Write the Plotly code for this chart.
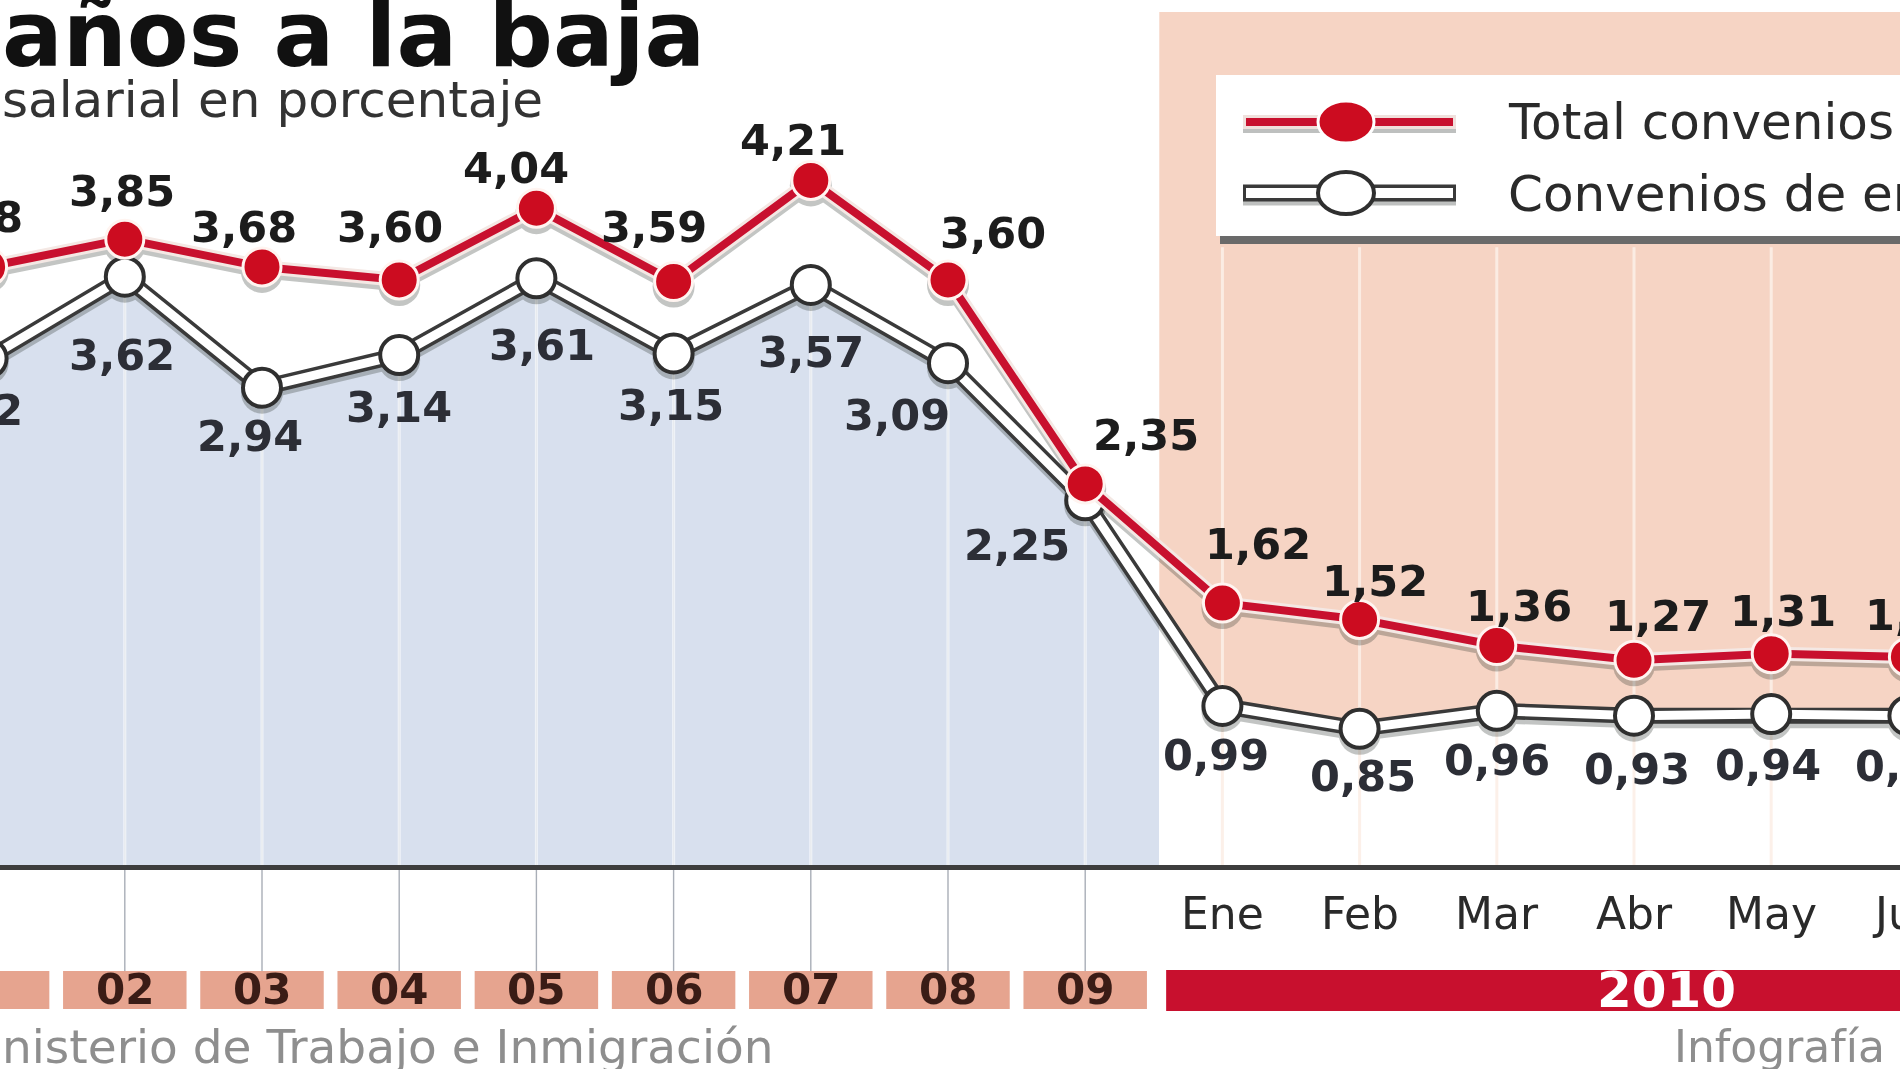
import plotly.graph_objects as go

# ---------------- data ----------------
years = ["01", "02", "03", "04", "05", "06", "07", "08", "09"]
months = ["Ene", "Feb", "Mar", "Abr", "May", "Jun"]
categories = years + months
total = [3.68, 3.85, 3.68, 3.60, 4.04, 3.59, 4.21, 3.60, 2.35, 1.62, 1.52, 1.36, 1.27, 1.31, 1.29]
empresa = [3.12, 3.62, 2.94, 3.14, 3.61, 3.15, 3.57, 3.09, 2.25, 0.99, 0.85, 0.96, 0.93, 0.94, 0.93]
year_2010 = "2010"
title_text = "años a la baja"
subtitle_text = "salarial en porcentaje"
legend_names = ["Total convenios", "Convenios de empresa"]
source_text = "nisterio de Trabajo e Inmigración"
credit_text = "Infografía"

# label offsets in pixels (dx, distance from marker)
total_off = [(-18, 50), (-3, 48), (-18, 40), (-9, 53), (-20, 40), (-20, 55), (-18, 40), (45, 47),
             (61, 49), (36, 59), (15, 38), (22, 40), (24, 44), (12, 43), (10, 42)]
emp_off = [(-18, 52), (-3, 78), (-12, 48), (0, 52), (6, 67), (-3, 52), (0, 67), (-51, 52),
           (-68, 45), (-6, 49), (3, 47), (0, 49), (3, 53), (-3, 51), (0, 50)]

# ---------------- layout geometry ----------------
W, H = 1900, 1069
Y0PX, PPU = 867.5, 163.2          # pixel of value 0, pixels per unit
X0PX, STEP = -12.4, 137.2         # pixel of first category, pixels per category
yr = [(Y0PX - H) / PPU, Y0PX / PPU]
xr = [(0 - X0PX) / STEP, (W - X0PX) / STEP]
SPLIT = 8.54                       # boundary years / 2010 region (axis units)
SH = 5 / PPU                       # shadow offset (5 px)

RED = "#c8102e"
PEACH = "#f6d4c4"
BLUE = "#d8e0ee"
SALMON = "#e6a48f"
DARK = "#3a3a3a"


def px(x):
    return x / W


def py(y):
    return 1 - y / H


def anchor(i):
    """keep annotation anchors inside the axis range; shift the text by the same amount in px"""
    a = min(max(i, xr[0]), xr[1])
    return a, (i - a) * STEP


idx = list(range(len(categories)))
fig = go.Figure()

# area under the company line: blue in the years, white over 2010
n = len(categories)
f = SPLIT / (n - 1)
fig.add_trace(go.Scatter(
    x=categories, y=empresa, mode="none", fill="tozeroy",
    fillgradient=dict(type="horizontal",
                      colorscale=[[0, BLUE], [f, BLUE], [f + 0.0001, "white"], [1, "white"]]),
    hoverinfo="skip", showlegend=False))

# vertical guide lines
gx, gy, gx2, gy2 = [], [], [], []
for c, v in zip(years, empresa):
    gx += [c, c, None]
    gy += [v, 0, None]
    gx2 += [c, c, None]
    gy2 += [v, -0.64, None]
fig.add_trace(go.Scatter(x=gx2, y=gy2, mode="lines", line=dict(color="#a9aeb7", width=1.4),
                         hoverinfo="skip", showlegend=False))
fig.add_trace(go.Scatter(x=gx, y=gy, mode="lines", line=dict(color="rgba(248,250,253,0.8)", width=3),
                         hoverinfo="skip", showlegend=False))
mx, my = [], []
for c in months:
    mx += [c, c, None]
    my += [3.8, 0, None]
fig.add_trace(go.Scatter(x=mx, y=my, mode="lines", line=dict(color="rgba(252,238,231,0.9)", width=3),
                         hoverinfo="skip", showlegend=False))

# drop shadows (on an overlay axis shifted a few pixels down)
fig.add_trace(go.Scatter(x=categories, y=empresa, mode="lines+markers", yaxis="y2",
                         line=dict(color="#28302a", width=15),
                         marker=dict(size=42, color="#28302a"), opacity=0.28,
                         hoverinfo="skip", showlegend=False))
fig.add_trace(go.Scatter(x=categories, y=total, mode="lines+markers", yaxis="y2",
                         line=dict(color="#28302a", width=13),
                         marker=dict(size=42, color="#28302a"), opacity=0.28,
                         hoverinfo="skip", showlegend=False))

# company line (white tube with dark border)
fig.add_trace(go.Scatter(x=categories, y=empresa, mode="lines", yaxis="y3",
                         line=dict(color=DARK, width=16), hoverinfo="skip", showlegend=False))
fig.add_trace(go.Scatter(x=categories, y=empresa, mode="lines+markers", yaxis="y3",
                         line=dict(color="white", width=9),
                         marker=dict(size=38, color="white", line=dict(color="#2f2f2f", width=4)),
                         name=legend_names[1], showlegend=False))

# total line (red with light halo)
fig.add_trace(go.Scatter(x=categories, y=total, mode="lines", yaxis="y3",
                         line=dict(color="#f4e8e4", width=14), hoverinfo="skip", showlegend=False))
fig.add_trace(go.Scatter(x=categories, y=total, mode="lines+markers", yaxis="y3",
                         line=dict(color=RED, width=8),
                         marker=dict(size=38, color="#cc0c20", line=dict(color="#fff4f0", width=3)),
                         name=legend_names[0], showlegend=False))

annotations = []
label_font_t = dict(family="DejaVu Sans", size=43, color="#1c1c1c", weight="bold")
label_font_e = dict(family="DejaVu Sans", size=43, color="#2c2e36", weight="bold")
for i, v, (dx, dy) in zip(idx, total, total_off):
    a, sx = anchor(i)
    annotations.append(dict(x=a, y=v, xref="x", yref="y", text=f"{v:.2f}".replace(".", ","),
                            showarrow=False, xshift=sx + dx, yshift=dy, xanchor="center",
                            yanchor="middle", font=label_font_t))
for i, v, (dx, dy) in zip(idx, empresa, emp_off):
    a, sx = anchor(i)
    annotations.append(dict(x=a, y=v, xref="x", yref="y", text=f"{v:.2f}".replace(".", ","),
                            showarrow=False, xshift=sx + dx, yshift=-dy, xanchor="center",
                            yanchor="middle", font=label_font_e))

# month labels
for i, c in zip(idx[len(years):], months):
    a, sx = anchor(i)
    annotations.append(dict(x=a, y=py(913), xref="x", yref="paper", text=c, showarrow=False,
                            xshift=sx, xanchor="center", yanchor="middle",
                            font=dict(family="DejaVu Sans", size=44, color="#2a2a2a")))
# year labels
for i, c in zip(idx, years):
    annotations.append(dict(x=i, y=py(989), xref="x", yref="paper", text=c, showarrow=False,
                            xanchor="center", yanchor="middle",
                            font=dict(family="DejaVu Sans", size=42, color="#3a1c16", weight="bold")))
annotations.append(dict(x=px(1666), y=py(990), xref="paper", yref="paper", text=year_2010,
                        showarrow=False, xanchor="center", yanchor="middle",
                        font=dict(family="DejaVu Sans", size=50, color="white", weight="bold")))

# titles
annotations.append(dict(x=0, y=py(35), xref="paper", yref="paper", xanchor="left", yanchor="middle",
                        text=title_text, showarrow=False,
                        font=dict(family="DejaVu Sans", size=90, color="#111111", weight="bold")))
annotations.append(dict(x=0, y=py(100), xref="paper", yref="paper", xanchor="left", yanchor="middle",
                        text=subtitle_text, showarrow=False,
                        font=dict(family="DejaVu Sans", size=50, color="#333333")))
# source / credit
annotations.append(dict(x=0, y=py(1046), xref="paper", yref="paper", xanchor="left", yanchor="middle",
                        text=source_text, showarrow=False,
                        font=dict(family="DejaVu Sans", size=47, color="#8e8e8e")))
annotations.append(dict(x=px(1672), y=py(1046), xref="paper", yref="paper", xanchor="left",
                        yanchor="middle", text=credit_text, showarrow=False,
                        font=dict(family="DejaVu Sans", size=44, color="#8e8e8e")))
# legend texts
annotations.append(dict(x=px(1506), y=py(122), xref="paper", yref="paper", xanchor="left",
                        yanchor="middle", text=legend_names[0], showarrow=False,
                        font=dict(family="DejaVu Sans", size=50, color="#2a2a2a")))
annotations.append(dict(x=px(1506), y=py(194), xref="paper", yref="paper", xanchor="left",
                        yanchor="middle", text=legend_names[1], showarrow=False,
                        font=dict(family="DejaVu Sans", size=50, color="#2a2a2a")))

shapes = []
# 2010 peach panel
shapes.append(dict(type="rect", xref="x", yref="y", x0=SPLIT, x1=xr[1] + 1, y0=0, y1=(Y0PX - 12) / PPU,
                   fillcolor=PEACH, line=dict(width=0), layer="below"))
# baseline
shapes.append(dict(type="line", xref="paper", yref="y", x0=0, x1=1, y0=0, y1=0,
                   line=dict(color="#3d3d3d", width=5), layer="above"))
# year boxes
for i, c in zip(idx, years):
    shapes.append(dict(type="rect", xref="x", yref="paper", x0=i - 0.45, x1=i + 0.45,
                       y0=py(1009), y1=py(971), fillcolor=SALMON, line=dict(width=0), layer="above"))
shapes.append(dict(type="rect", xref="x", yref="paper", x0=8.59, x1=xr[1] + 1,
                   y0=py(1011), y1=py(970), fillcolor=RED, line=dict(width=0), layer="above"))
# legend box with shadow
shapes.append(dict(type="rect", xref="paper", yref="paper", x0=px(1220), x1=px(1920),
                   y0=py(244), y1=py(80), fillcolor="#6a6a6a", line=dict(width=0), layer="above"))
shapes.append(dict(type="rect", xref="paper", yref="paper", x0=px(1216), x1=px(1920),
                   y0=py(236), y1=py(75), fillcolor="white", line=dict(width=0), layer="above"))
# legend symbols
for yy, outer, ow, inner, iw in [(122, "#f0e0dc", 14, RED, 8), (193, DARK, 17, "white", 10)]:
    shapes.append(dict(type="line", xref="paper", yref="paper", x0=px(1243), x1=px(1456),
                       y0=py(yy + 4), y1=py(yy + 4), line=dict(color="rgba(40,48,42,0.3)", width=ow),
                       layer="above"))
    shapes.append(dict(type="line", xref="paper", yref="paper", x0=px(1243), x1=px(1456),
                       y0=py(yy), y1=py(yy), line=dict(color=outer, width=ow), layer="above"))
    shapes.append(dict(type="line", xref="paper", yref="paper", x0=px(1246), x1=px(1453),
                       y0=py(yy), y1=py(yy), line=dict(color=inner, width=iw), layer="above"))
shapes.append(dict(type="circle", xref="paper", yref="paper", x0=px(1318), x1=px(1374),
                   y0=py(143), y1=py(101), fillcolor="#cc0c20", line=dict(color="white", width=3),
                   layer="above"))
shapes.append(dict(type="circle", xref="paper", yref="paper", x0=px(1318), x1=px(1374),
                   y0=py(214), y1=py(172), fillcolor="white", line=dict(color="#2f2f2f", width=4),
                   layer="above"))

hidden = dict(showgrid=False, zeroline=False, showticklabels=False, showline=False, ticks="",
              fixedrange=True)
fig.update_layout(
    width=W, height=H, margin=dict(l=0, r=0, t=0, b=0),
    paper_bgcolor="white", plot_bgcolor="white",
    showlegend=False, annotations=annotations, shapes=shapes,
    xaxis=dict(range=xr, type="category", categoryorder="array", categoryarray=categories, **hidden),
    yaxis=dict(range=yr, **hidden),
    yaxis2=dict(range=[yr[0] + SH, yr[1] + SH], overlaying="y", **hidden),
    yaxis3=dict(range=yr, overlaying="y", **hidden),
)

fig.write_html("out.html", config={"displayModeBar": False},
               post_script="document.body.style.margin='0px';")
